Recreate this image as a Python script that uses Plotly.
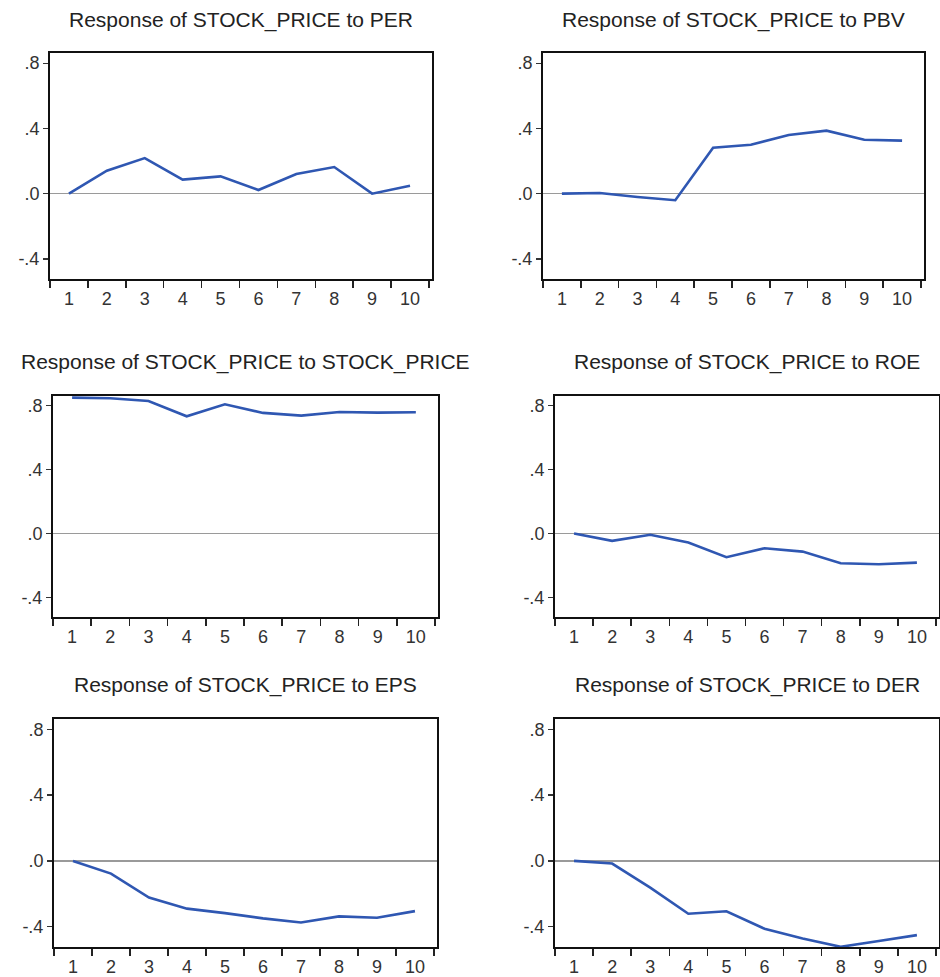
import plotly.graph_objects as go

W, H = 940, 977

periods = ["1", "2", "3", "4", "5", "6", "7", "8", "9", "10"]

titles = [
    "Response of STOCK_PRICE to PER",
    "Response of STOCK_PRICE to PBV",
    "Response of STOCK_PRICE to STOCK_PRICE",
    "Response of STOCK_PRICE to ROE",
    "Response of STOCK_PRICE to EPS",
    "Response of STOCK_PRICE to DER",
]

resp_per = [0.0, 0.141, 0.218, 0.086, 0.106, 0.022, 0.120, 0.163, 0.0, 0.049]
resp_pbv = [0.0, 0.004, -0.020, -0.040, 0.282, 0.300, 0.360, 0.386, 0.330, 0.325]
resp_stock = [0.852, 0.848, 0.831, 0.735, 0.810, 0.756, 0.739, 0.762, 0.758, 0.760]
resp_roe = [0.0, -0.046, -0.008, -0.056, -0.148, -0.092, -0.113, -0.186, -0.192, -0.182]
resp_eps = [0.0, -0.077, -0.223, -0.290, -0.317, -0.349, -0.374, -0.337, -0.345, -0.305]
resp_der = [0.0, -0.016, -0.162, -0.321, -0.306, -0.412, -0.471, -0.522, -0.486, -0.451]

series = [resp_per, resp_pbv, resp_stock, resp_roe, resp_eps, resp_der]

y_tickvals = [-0.4, 0.0, 0.4, 0.8]
y_ticktext = ["-.4", ".0", ".4", ".8"]
y_range = [-0.523, 0.862]

# pixel boxes (left, right, top, bottom)
boxes = [
    (50, 432, 53, 279),
    (543, 924, 53, 279),
    (53, 438, 396, 617),
    (555, 939, 396, 617),
    (54, 437, 719, 947),
    (555, 939, 719, 947),
]
title_y = [20, 20, 362, 362, 685, 685]

LINE_COLOR = "#2F57B2"
FONT = "Liberation Sans, Arial, sans-serif"

fig = go.Figure()
layout = dict(
    width=W, height=H,
    margin=dict(l=0, r=0, t=0, b=0),
    paper_bgcolor="white", plot_bgcolor="white",
    showlegend=False,
    font=dict(family=FONT, size=18, color="#333333"),
    annotations=[],
)

for i, (vals, (l, r, t, b)) in enumerate(zip(series, boxes)):
    n = i + 1
    xa = "x" if n == 1 else f"x{n}"
    ya = "y" if n == 1 else f"y{n}"
    fig.add_trace(go.Scatter(
        x=periods, y=vals, mode="lines", xaxis=xa, yaxis=ya,
        line=dict(color=LINE_COLOR, width=2.6),
        hoverinfo="skip",
    ))
    xkey = "xaxis" if n == 1 else f"xaxis{n}"
    ykey = "yaxis" if n == 1 else f"yaxis{n}"
    layout[xkey] = dict(
        domain=[l / W, r / W], anchor=ya, type="category",
        categoryorder="array", categoryarray=periods,
        range=[-0.5, 9.58],
        tickson="boundaries", ticks="outside", ticklen=7, tickwidth=1.5,
        tickcolor="#222222",
        showline=True, linecolor="#111111", linewidth=2, mirror=True,
        showgrid=False, zeroline=False,
        tickfont=dict(size=18, color="#333333"),
        ticklabelstandoff=2,
        fixedrange=True,
    )
    layout[ykey] = dict(
        domain=[1 - b / H, 1 - t / H], anchor=xa,
        range=y_range, tickmode="array",
        tickvals=y_tickvals, ticktext=y_ticktext,
        ticks="outside", ticklen=5, tickwidth=1.2, tickcolor="#333333",
        showline=True, linecolor="#111111", linewidth=2, mirror=True,
        showgrid=False,
        zeroline=True, zerolinecolor="#9a9a9a", zerolinewidth=1.2,
        tickfont=dict(size=18, color="#333333"),
        fixedrange=True,
    )
    layout["annotations"].append(dict(
        text=titles[i], xref="paper", yref="paper",
        x=(l + r) / 2 / W, y=1 - title_y[i] / H,
        xanchor="center", yanchor="middle", showarrow=False,
        font=dict(family=FONT, size=21, color="#222222"),
    ))

fig.update_layout(**layout)
fig.write_html(
    "out.html",
    config={"displayModeBar": False, "staticPlot": True},
    post_script="document.body.style.margin='0';document.body.style.overflow='hidden';",
)
